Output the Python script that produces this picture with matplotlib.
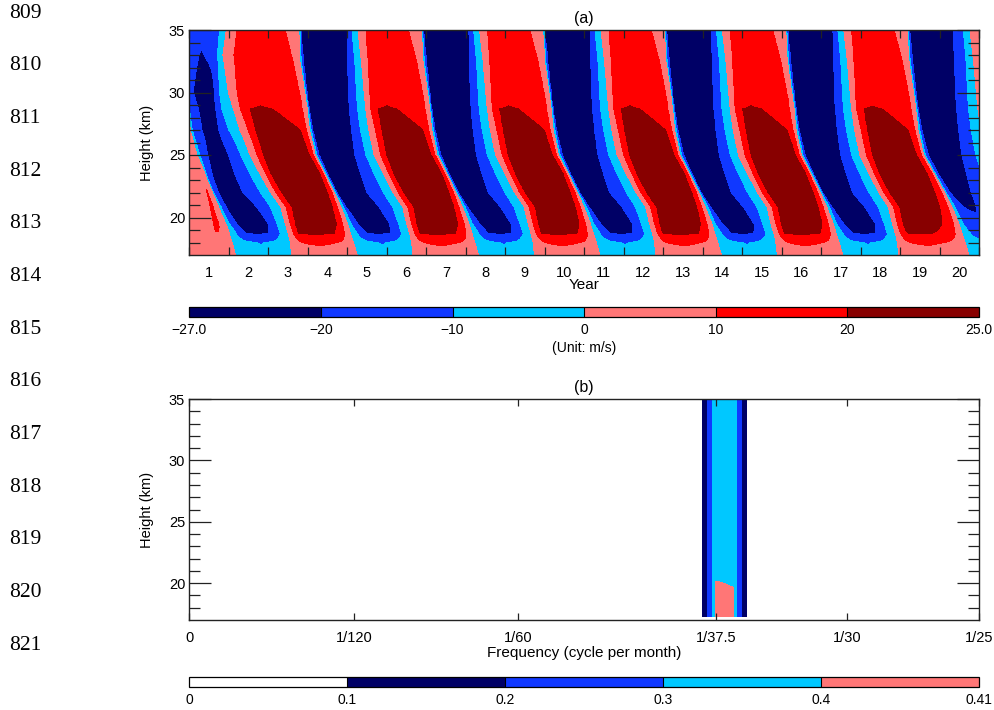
import numpy as np
import matplotlib
matplotlib.use("Agg")
import matplotlib.pyplot as plt

plt.rcParams["font.family"] = ["Liberation Sans", "DejaVu Sans"]

# ---------------- panel (a): zonal wind, one QBO cycle
period = 36.9          # months
cycle_start = 34.2     # month where the 3rd navy band touches 35 km
row_height = [35, 32.5, 29.5, 28.7, 27, 25, 23.5, 22, 20.85, 19.5, 18.7, 18, 17]
# knots per height: -20 down, min, -20 up, -10 up, 0 up, 10 up,
#                   20 up, max, 20 down, 10 down, 0 down, -10 down
knot_month = [
    [0.0, 6.7, 13.9, 15.3, 17.1, 19.5, 23.7, 27.4, 30.4, 32.4, 36.4, 36.7],
    [0.9, 7.3, 14.1, 16.2, 18.2, 20.2, 24.3, 28.0, 31.9, 34.9, 36.9, 37.2],
    [2.1, 8.2, 14.4, 16.8, 19.2, 20.8, 23.1, 26.1, 30.4, 37.1, 38.5, 38.8],
    [2.5, 8.5, 14.6, 17.0, 19.5, 21.0, 23.2, 25.8, 28.9, 37.5, 38.9, 39.2],
    [3.5, 9.3, 15.2, 17.9, 20.4, 22.4, 24.3, 29.5, 36.8, 38.6, 39.5, 40.0],
    [5.3, 11.0, 16.2, 19.5, 22.0, 24.0, 25.8, 32.5, 39.3, 40.5, 41.1, 41.6],
    [7.8, 12.9, 17.9, 22.0, 24.8, 26.5, 28.0, 35.5, 42.5, 43.5, 44.0, 44.4],
    [10.6, 15.3, 19.8, 24.8, 27.8, 29.3, 31.0, 38.5, 44.7, 46.1, 46.8, 47.2],
    [13.4, 18.0, 23.5, 27.6, 30.7, 32.2, 34.0, 40.5, 46.2, 47.7, 48.8, 49.6],
    [17.0, 21.5, 26.8, 29.4, 31.9, 33.4, 35.0, 41.0, 47.4, 49.3, 50.8, 51.8],
    [19.8, 23.4, 26.8, 30.4, 32.8, 34.4, 35.9, 41.0, 46.8, 49.9, 51.7, 53.8],
    [20.7, 24.3, 28.0, 30.4, 33.4, 35.9, 38.0, 41.9, 46.2, 49.9, 52.6, 54.1],
    [21.3, 25.8, 28.9, 31.3, 33.8, 38.0, 41.0, 44.1, 47.1, 50.2, 53.7, 54.7],
]
knot_wind = [
    [-20, -25.0, -20, -10, 0, 10, 14.0, 16.0, 14.0, 10, 0, -10],
    [-20, -25.5, -20, -10, 0, 10, 15.5, 17.5, 15.5, 10, 0, -10],
    [-20, -26.0, -20, -10, 0, 10, 18.0, 19.3, 18.0, 10, 0, -10],
    [-20, -26.0, -20, -10, 0, 10, 20.0, 20.3, 20.0, 10, 0, -10],
    [-20, -26.5, -20, -10, 0, 10, 20.0, 23.0, 20.0, 10, 0, -10],
    [-20, -26.5, -20, -10, 0, 10, 20.0, 24.5, 20.0, 10, 0, -10],
    [-20, -26.5, -20, -10, 0, 10, 20.0, 24.8, 20.0, 10, 0, -10],
    [-20, -26.0, -20, -10, 0, 10, 20.0, 24.8, 20.0, 10, 0, -10],
    [-20, -25.0, -20, -10, 0, 10, 20.0, 24.5, 20.0, 10, 0, -10],
    [-20, -23.0, -20, -10, 0, 10, 20.0, 23.0, 20.0, 10, 0, -10],
    [-20, -20.5, -20, -10, 0, 10, 20.0, 20.5, 20.0, 10, 0, -10],
    [-9, -10.5, -9, -7, 0, 9, 10.5, 11.5, 10.5, 9, 0, -6],
    [-5, -8.0, -6, -3, 0, 4, 5.0, 6.0, 5.0, 4, 0, -2],
]
# the first cycle is weaker and shifted; the last months are weaker and late
edge_z = [17, 19, 21, 23, 25, 27, 30, 33, 35]
edge_floor = [0.3, 0.3, 0.35, 0.3, 0.36, 0.75, 0.92, 0.8, 0.7]
edge_rise = [9.5, 9.0, 8.0, 5.5, 4.0, 4.5, 5.0, 7.0, 7.5]
edge_delay = [0, 1.0, 1.5, 1.0, 1.0, 0.5, 0.5, 0, 0]
edge_advance = [0, 0, 1.0, 2.0, 2.0, 4.0, 5.5, 5.5, 3.7]
end_floor = 0.8
end_delay = 1.5

wind_levels = [-27, -20, -10, 0, 10, 20, 25]
wind_colors = ["#000066", "#1038ff", "#00c8ff", "#ff7676", "#ff0000", "#880000"]
wind_ticklabels = ["\u221227.0", "\u221220", "\u221210", "0", "10", "20", "25.0"]

# ---------------- panel (b): spectrum
spec_freq = [0.0, 0.0257, 0.02597, 0.02622, 0.02648, 0.02668,
             0.02756, 0.02773, 0.02798, 0.02825, 0.0285, 0.04]
spec_height = [17.25, 18, 19, 20, 21, 25, 30, 35]
skirt = [0, 0, 0.1001, 0.2001, 0.3001]
peak_left = [0.409, 0.409, 0.409, 0.404, 0.38, 0.36, 0.35, 0.35]
peak_right = [0.409, 0.409, 0.409, 0.395, 0.37, 0.35, 0.34, 0.34]
spec_levels = [0, 0.1, 0.2, 0.3, 0.4, 0.41]
spec_colors = ["#ffffff", "#000066", "#1038ff", "#00c8ff", "#ff7676"]
spec_ticklabels = ["0", "0.1", "0.2", "0.3", "0.4", "0.41"]
freq_ticks = [0, 1 / 120, 1 / 60, 1 / 37.5, 1 / 30, 1 / 25]
freq_labels = ["0", "1/120", "1/60", "1/37.5", "1/30", "1/25"]

line_numbers = list(range(809, 822))


def sig(x):
    return 1 / (1 + np.exp(-x))


# ---- build the wind field
tm = np.arange(0, 240.001, 0.2)
zz = np.arange(17, 35.001, 0.05)
zr = np.array(row_height)[::-1]
KT = np.array(knot_month)[::-1]
KV = np.array(knot_wind)[::-1]
u = np.zeros((len(zz), len(tm)))
for i, z in enumerate(zz):
    kt = np.array([np.interp(z, zr, KT[:, k]) for k in range(12)])
    kv = np.array([np.interp(z, zr, KV[:, k]) for k in range(12)])
    tt = np.concatenate([kt + cycle_start + n * period for n in range(-3, 8)])
    vv = np.tile(kv, 11)
    fl = np.interp(z, edge_z, edge_floor)
    rs = np.interp(z, edge_z, edge_rise)
    dl = np.interp(z, edge_z, edge_delay)
    ad = np.interp(z, edge_z, edge_advance)
    g = (tm - dl * (1 - sig((tm - 8) / 1.5))
         + ad * sig((tm - 6) / 1.5) * np.exp(-np.clip(tm - 10, 0, None) / 10)
         - end_delay * sig((tm - 228) / 3))
    amp = fl + (1 - fl) * sig((tm - rs) / 1.3)
    amp *= 1 - (1 - end_floor) * np.exp(-(240 - tm) / 6)
    u[i] = amp * np.interp(g, tt, vv)
u = np.clip(u, -26.9, 24.9)

spec = np.zeros((len(spec_height), len(spec_freq)))
spec[:, :5] = skirt
spec[:, 5] = peak_left
spec[:, 6] = peak_right
spec[:, 7:] = skirt[::-1]

# ---- figure
W, H = 995, 710
fig = plt.figure(figsize=(W / 100, H / 100), dpi=100)


def box(x0, y0, x1, y1):
    return [x0 / W, 1 - y1 / H, (x1 - x0) / W, (y1 - y0) / H]


edge = "#222222"


def style(ax):
    for s in ax.spines.values():
        s.set_color(edge)
        s.set_linewidth(1.0)
    ax.tick_params(which="both", direction="in", colors=edge, labelcolor="black",
                   top=True, right=True, width=0.9)
    ax.set_ylim(17, 35)
    ax.set_yticks([20, 25, 30, 35])
    ax.set_yticks(np.arange(18, 35, 1), minor=True)
    ax.tick_params(axis="y", which="major", length=16, labelsize=10.5, pad=3)
    ax.tick_params(axis="y", which="minor", length=8)


ax1 = fig.add_axes(box(189.3, 30, 979, 255))
cf1 = ax1.contourf(tm, zz, u, levels=wind_levels, colors=wind_colors)
ax1.set_xlim(0, 240)
style(ax1)
ax1.set_xticks(np.arange(0, 241, 12))
ax1.set_xticklabels([])
ax1.set_xticks(np.arange(6, 240, 12), labels=[str(k) for k in range(1, 21)], minor=True)
ax1.tick_params(axis="x", which="major", length=6)
ax1.tick_params(axis="x", which="minor", length=0, labelsize=10.5, pad=8)
ax1.set_title("(a)", fontsize=11.5, pad=5)

cax1 = fig.add_axes(box(189.3, 307, 979, 317))
cb1 = fig.colorbar(cf1, cax=cax1, orientation="horizontal", drawedges=True)
cb1.set_ticks(wind_levels)
cb1.set_ticklabels(wind_ticklabels)
cb1.outline.set_linewidth(0.9)
cb1.dividers.set_linewidth(0.8)
cax1.tick_params(length=0, labelsize=10, pad=4)

ax2 = fig.add_axes(box(189.3, 399, 979, 620))
cf2 = ax2.contourf(spec_freq, spec_height, spec, levels=spec_levels, colors=spec_colors)
ax2.set_xlim(0, 0.04)
style(ax2)
ax2.set_xticks(freq_ticks, labels=freq_labels)
ax2.tick_params(axis="x", which="major", length=5, labelsize=10.5, pad=8)
ax2.set_title("(b)", fontsize=11.5, pad=5)

cax2 = fig.add_axes(box(189.3, 677, 979, 687))
cb2 = fig.colorbar(cf2, cax=cax2, orientation="horizontal", drawedges=True)
cb2.set_ticks(spec_levels)
cb2.set_ticklabels(spec_ticklabels)
cb2.outline.set_linewidth(0.9)
cb2.dividers.set_linewidth(0.8)
cax2.tick_params(length=0, labelsize=10, pad=4)

fig.text(147 / W, 1 - 142.5 / H, "Height (km)", rotation=90, ha="center", va="center", fontsize=10.5)
fig.text(147 / W, 1 - 509.5 / H, "Height (km)", rotation=90, ha="center", va="center", fontsize=10.5)
fig.text(584 / W, 1 - 285 / H, "Year", ha="center", va="center", fontsize=11)
fig.text(584 / W, 1 - 348 / H, "(Unit: m/s)", ha="center", va="center", fontsize=10)
fig.text(584 / W, 1 - 653 / H, "Frequency (cycle per month)", ha="center", va="center", fontsize=11)

for k, num in enumerate(line_numbers):
    fig.text(9 / W, 1 - (13 + 52.7 * k) / H, str(num), ha="left", va="center",
             fontsize=15.5, family="Liberation Serif")

fig.savefig("out.png", dpi=100)
